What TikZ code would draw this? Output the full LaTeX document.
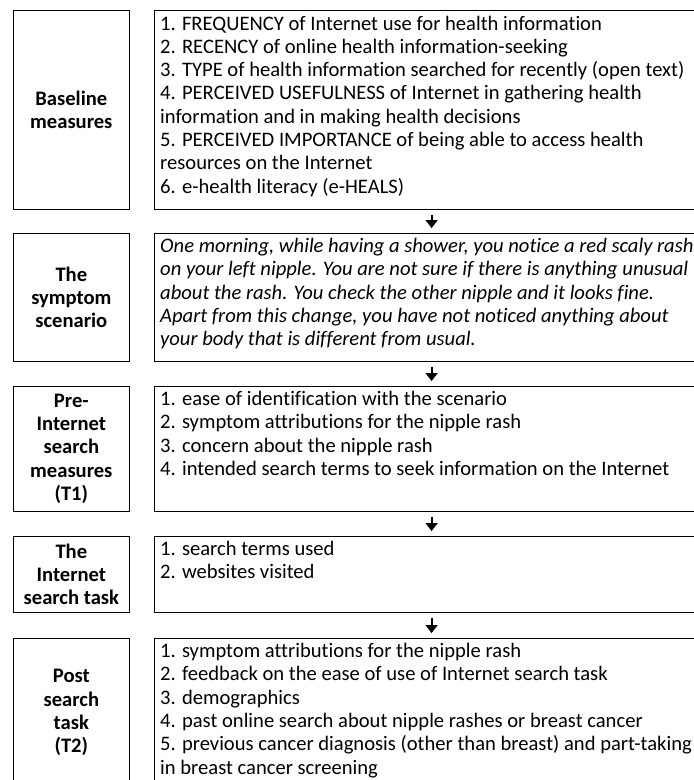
\documentclass[tikz,border=0pt]{standalone}
\usepackage{fontspec}
\setmainfont{Carlito}[Ligatures=NoCommon]
\usetikzlibrary{arrows.meta}

\newcommand{\boxfont}{\fontsize{20.6pt}{23.3pt}\selectfont}

\tikzset{
  every node/.style={font=\boxfont},
  lbox/.style={draw, line width=1.2pt, anchor=north west, minimum width=116.5pt,
    align=center, font=\boxfont\bfseries, inner sep=0pt},
  rbox/.style={draw, line width=1.2pt, anchor=north west, minimum width=554pt, inner sep=0pt},
  rtxt/.style={anchor=north west, align=left, inner xsep=6pt, inner ysep=0pt,
    execute at begin node=\rule{0pt}{14pt}}
}

\begin{document}
\begin{tikzpicture}[x=1pt, y=-1pt,
    arr/.style={-{Triangle[width=12pt,length=8pt]}, line width=2pt, shorten <=5pt, shorten >=5pt}]
  \useasboundingbox (0,0) rectangle (694,780);

  % left column
  \node[lbox, minimum height=199pt] (l1) at (12.5,10) {Baseline\\measures};
  \node[lbox, minimum height=127.5pt] (l2) at (12.5,233) {The\\symptom\\scenario};
  \node[lbox, minimum height=124.5pt] (l3) at (12.5,386) {Pre-\\Internet\\search\\measures\\(T1)};
  \node[lbox, minimum height=75.5pt] (l4) at (12.5,536) {The\\Internet\\search task};
  \node[lbox, minimum height=148pt] (l5) at (12.5,638) {Post\\search\\task\\(T2)};

  % right column
  \node[rbox, minimum height=199pt] (r1) at (154,10) {};
  \node[rbox, minimum height=127.5pt] (r2) at (154,233) {};
  \node[rbox, minimum height=124.5pt] (r3) at (154,386) {};
  \node[rbox, minimum height=75.5pt] (r4) at (154,536) {};
  \node[rbox, minimum height=148pt] (r5) at (154,638) {};

  \node[rtxt] (t1) at ([yshift=-5.5pt]r1.north west) {1. FREQUENCY of Internet use for health information\\
    2. RECENCY of online health information-seeking\\
    3. TYPE of health information searched for recently (open text)\\
    4. PERCEIVED USEFULNESS of Internet in gathering health\\
    information and in making health decisions\\
    5. PERCEIVED IMPORTANCE of being able to access health\\
    resources on the Internet\\
    6. e-health literacy (e-HEALS)};
  \node[rtxt, font=\boxfont\itshape] (t2) at ([yshift=-5pt]r2.north west) {One morning, while having a shower, you notice a red scaly rash\\
    on your left nipple. You are not sure if there is anything unusual\\
    about the rash. You check the other nipple and it looks fine.\\
    Apart from this change, you have not noticed anything about\\
    your body that is different from usual.};
  \node[rtxt] (t3) at ([yshift=-5pt]r3.north west) {1. ease of identification with the scenario\\
    2. symptom attributions for the nipple rash\\
    3. concern about the nipple rash\\
    4. intended search terms to seek information on the Internet};
  \node[rtxt] (t4) at ([yshift=-5pt]r4.north west) {1. search terms used\\
    2. websites visited};
  \node[rtxt] (t5) at ([yshift=-5pt]r5.north west) {1. symptom attributions for the nipple rash\\
    2. feedback on the ease of use of Internet search task\\
    3. demographics\\
    4. past online search about nipple rashes or breast cancer\\
    5. previous cancer diagnosis (other than breast) and part-taking\\
    in breast cancer screening};

  % arrows
  \draw[arr] (r1.south) -- (r2.north);
  \draw[arr] (r2.south) -- (r3.north);
  \draw[arr] (r3.south) -- (r4.north);
  \draw[arr] (r4.south) -- (r5.north);
\end{tikzpicture}
\end{document}
